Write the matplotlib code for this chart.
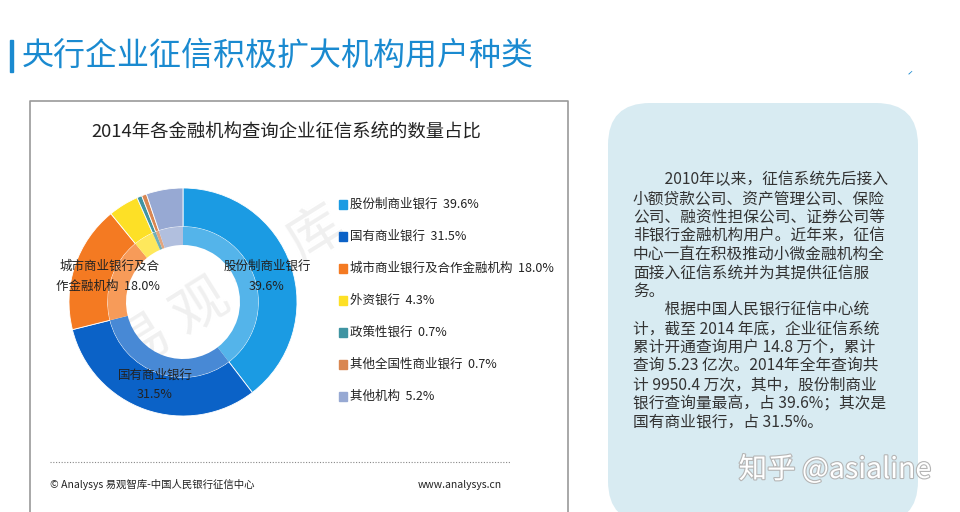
import matplotlib.pyplot as plt
import matplotlib.patheffects as pe
from matplotlib.patches import FancyBboxPatch, Rectangle
from matplotlib.colors import to_rgb

plt.rcParams['font.family'] = ['Noto Sans CJK SC', 'DejaVu Sans']

# data
categories = ['股份制商业银行', '国有商业银行', '城市商业银行及合作金融机构', '外资银行',
              '政策性银行', '其他全国性商业银行', '其他机构']
shares = [39.6, 31.5, 18.0, 4.3, 0.7, 0.7, 5.2]
colors = ['#1b9be3', '#0b62c7', '#f47a22', '#fde026', '#3f94a2', '#d98752', '#97a9d3']

title = '央行企业征信积极扩大机构用户种类'
chart_title = '2014年各金融机构查询企业征信系统的数量占比'
body_lines = [
    '　　2010年以来，征信系统先后接入',
    '小额贷款公司、资产管理公司、保险',
    '公司、融资性担保公司、证券公司等',
    '非银行金融机构用户。近年来，征信',
    '中心一直在积极推动小微金融机构全',
    '面接入征信系统并为其提供征信服',
    '务。',
    '　　根据中国人民银行征信中心统',
    '计，截至 2014 年底，企业征信系统',
    '累计开通查询用户 14.8 万个，累计',
    '查询 5.23 亿次。2014年全年查询共',
    '计 9950.4 万次，其中，股份制商业',
    '银行查询量最高，占 39.6%；其次是',
    '国有商业银行，占 31.5%。',
]

fig = plt.figure(figsize=(9.6, 5.12), dpi=100)
bg = fig.add_axes([0, 0, 1, 1])
bg.set_xlim(0, 960)
bg.set_ylim(512, 0)
bg.axis('off')

# slide title
bg.add_patch(Rectangle((10, 40), 3, 32, color='#1a8ad0'))
bg.text(22, 56, title, fontsize=23, color='#1a8ad0', va='center', ha='left')
bg.text(910, 76, 'ˊ', fontsize=8, color='#1a8ad0', ha='center', va='center')

# chart frame
bg.plot([30, 30, 568, 568], [512, 101, 101, 512], color='#9a9a9a', lw=1.2)
bg.text(286, 133, chart_title, fontsize=13.2, color='#222222', ha='center', va='center')

# faint watermark
bg.text(230, 290, '易 观 智 库', fontsize=40, color='#f0f0f0', rotation=32,
        ha='center', va='center', zorder=0)

# legend
for i, (name, val, c) in enumerate(zip(categories, shares, colors)):
    y = 204 + i * 32
    bg.add_patch(Rectangle((339, y - 4.5), 8, 9, color=c))
    bg.text(350, y, f'{name}  {val:.1f}%', fontsize=9, color='#222222', va='center', ha='left')

# footer
bg.plot([50, 510], [462, 462], color='#888888', lw=0.8, ls=(0, (1, 1.5)))
bg.text(50, 485, '© Analysys 易观智库-中国人民银行征信中心', fontsize=7.5, color='#222222', va='center')
bg.text(418, 485, 'www.analysys.cn', fontsize=7.5, color='#222222', va='center')

# right text box
bg.add_patch(FancyBboxPatch((608, 103), 310, 420, boxstyle='round,pad=0,rounding_size=42',
                            facecolor='#d8ebf2', edgecolor='none'))
for i, line in enumerate(body_lines):
    bg.text(633, 180 + i * 18.6, line, fontsize=11.3, color='#333333', va='center', ha='left')

# donut
r_px = 114
cx, cy = 183, 302
pie_ax = fig.add_axes([(cx - r_px) / 960, (512 - cy - r_px) / 512, 2 * r_px / 960, 2 * r_px / 512])
light = [tuple(0.75 * v + 0.25 for v in to_rgb(c)) for c in colors]
pie_ax.pie(shares, colors=colors, startangle=90, counterclock=False, radius=1,
           wedgeprops=dict(width=0.34, edgecolor='white', linewidth=0.6))
pie_ax.pie(shares, colors=light, startangle=90, counterclock=False, radius=0.66,
           wedgeprops=dict(width=0.16, edgecolor='none'))
pie_ax.set_xlim(-1, 1)
pie_ax.set_ylim(-1, 1)
pie_ax.set_aspect('equal')
pie_ax.axis('off')

# slice labels, drawn above the donut
labels = [
    (267, 266, '股份制商业银行'), (267, 286, '39.6%'),
    (155, 375, '国有商业银行'), (155, 395, '31.5%'),
    (110, 266, '城市商业银行及合'), (108, 286, '作金融机构  18.0%'),
]
for x, y, s in labels:
    fig.text(x, y, s, transform=bg.transData, fontsize=9, color='#222222',
             ha='center', va='center', zorder=5)

fig.text(835, 470, '知乎 @asialine', transform=bg.transData, fontsize=20.5, color='white',
         ha='center', va='center', zorder=5,
         path_effects=[pe.withStroke(linewidth=1.6, foreground='#b5b5b5')])

fig.savefig('out.png', dpi=100)
